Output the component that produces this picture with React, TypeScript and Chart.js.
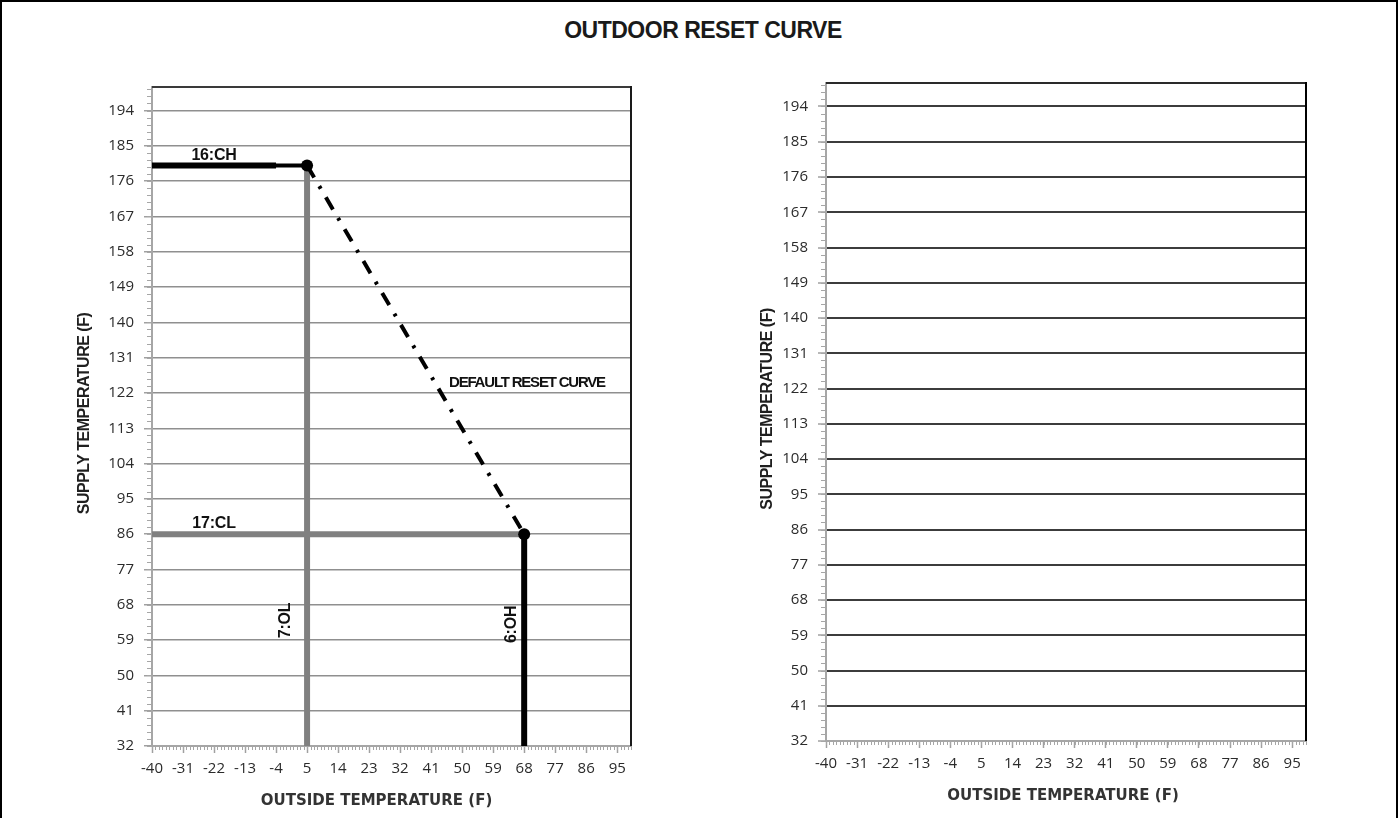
import React, { useEffect, useRef } from "react";
import { Chart, registerables } from "chart.js";

Chart.register(...registerables);

// ---------- data ----------
const xRange = [-40, 99];
const yRange = [32, 200];
const xTickValues = [-40, -31, -22, -13, -4, 5, 14, 23, 32, 41, 50, 59, 68, 77, 86, 95];
const yTickValues = [32, 41, 50, 59, 68, 77, 86, 95, 104, 113, 122, 131, 140, 149, 158, 167, 176, 185, 194];
const xMinorStep = 1;
const yMinorStep = 1.8;

const chPoints = [{ x: -40, y: 180 }, { x: 5, y: 180 }];
const chHeavyPoints = [{ x: -40, y: 180 }, { x: -4, y: 180 }];
const resetPoints = [{ x: 5, y: 180 }, { x: 68, y: 86 }];
const clPoints = [{ x: -40, y: 86 }, { x: 68, y: 86 }];
const olPoints = [{ x: 5, y: 32 }, { x: 5, y: 180 }];
const ohPoints = [{ x: 68, y: 32 }, { x: 68, y: 86 }];

const chartTitle = "OUTDOOR RESET CURVE";
const xAxisTitle = "OUTSIDE TEMPERATURE (F)";
const yAxisTitle = "SUPPLY TEMPERATURE (F)";

// annotation texts anchored in data space (offsets in px)
const leftNotes = [
  { text: "16:CH", x: -22, y: 180, dx: 0, dy: -10, rotate: false, align: "center", size: 16, spacing: -0.2 },
  { text: "17:CL", x: -22, y: 86, dx: 0, dy: -11, rotate: false, align: "center", size: 16, spacing: -0.2 },
  { text: "7:OL", x: 5, y: 64, dx: -21, dy: 0, rotate: true, align: "center", size: 16, spacing: -0.2 },
  { text: "6:OH", x: 68, y: 63, dx: -13, dy: 0, rotate: true, align: "center", size: 16, spacing: -0.2 },
  { text: "DEFAULT RESET CURVE", x: 46.2, y: 124.6, dx: 0, dy: 0, rotate: false, align: "left", size: 15, spacing: -1.2 },
];

// ---------- layout / style ----------
const FONT_ARIAL = "'Liberation Sans', Arial, sans-serif";
const FONT_TICK = "'Open Sans', 'Liberation Sans', sans-serif";
const FONT_XTITLE = "'DejaVu Sans', Verdana, sans-serif";

const leftPanel = {
  top: 87, right: 69, yAxisWidth: 152, xAxisHeight: 72,
  gridColor: "#8f8f8f", gridWidth: 1.5, topBorder: "#3a3a3a", rightBorder: "#1a1a1a",
  yTitleDx: -67, yTitleDy: -3, xTitleDx: -15, xTitleDy: 55.5,
};
const rightPanel = {
  top: 83, right: 94, yAxisWidth: 126, xAxisHeight: 77,
  gridColor: "#3c3c3c", gridWidth: 2, topBorder: "#2a2a2a", rightBorder: "#000000",
  yTitleDx: -58, yTitleDy: -3, xTitleDx: -3, xTitleDy: 55.5,
};

function makeChart(canvas: HTMLCanvasElement, panel: any, datasets: any[], notes: any[]) {
  const decor = {
    id: "decor",
    afterDraw(chart: any) {
      const { ctx, chartArea: a, scales } = chart;
      const xs = scales.x;
      const ys = scales.y;
      ctx.save();
      // minor ticks
      ctx.strokeStyle = "#a6a6a6";
      ctx.lineWidth = 1;
      for (let i = 0; ; i++) {
        const v = xRange[0] + i * xMinorStep;
        if (v > xRange[1] + 1e-9) break;
        const px = Math.round(xs.getPixelForValue(v)) + 0.5;
        ctx.beginPath();
        ctx.moveTo(px, a.bottom);
        ctx.lineTo(px, a.bottom + 4);
        ctx.stroke();
      }
      for (let i = 0; ; i++) {
        const v = yRange[0] + i * yMinorStep;
        if (v > yRange[1] + 1e-9) break;
        const py = Math.round(ys.getPixelForValue(v)) + 0.5;
        ctx.beginPath();
        ctx.moveTo(a.left, py);
        ctx.lineTo(a.left - 5, py);
        ctx.stroke();
      }
      // top and right borders of plot
      ctx.lineWidth = 2;
      ctx.strokeStyle = panel.topBorder;
      ctx.beginPath();
      ctx.moveTo(a.left, a.top);
      ctx.lineTo(a.right, a.top);
      ctx.stroke();
      ctx.strokeStyle = panel.rightBorder;
      ctx.beginPath();
      ctx.moveTo(a.right, a.top - 1);
      ctx.lineTo(a.right, a.bottom);
      ctx.stroke();

      // annotations
      ctx.fillStyle = "#111";
      for (const n of notes) {
        const px = xs.getPixelForValue(n.x) + n.dx;
        const py = ys.getPixelForValue(n.y) + n.dy;
        ctx.save();
        ctx.font = `bold ${n.size}px ${FONT_ARIAL}`;
        (ctx as any).letterSpacing = `${n.spacing}px`;
        ctx.textBaseline = "middle";
        ctx.textAlign = n.align;
        ctx.translate(px, py);
        if (n.rotate) ctx.rotate(-Math.PI / 2);
        ctx.fillText(n.text, 0, 0);
        ctx.restore();
      }

      // axis titles
      ctx.fillStyle = "#1f1f1f";
      ctx.save();
      ctx.font = `bold 16px ${FONT_ARIAL}`;
      (ctx as any).letterSpacing = "-0.5px";
      ctx.textAlign = "center";
      ctx.textBaseline = "middle";
      ctx.translate(a.left + panel.yTitleDx, (a.top + a.bottom) / 2 + panel.yTitleDy);
      ctx.rotate(-Math.PI / 2);
      ctx.fillText(yAxisTitle, 0, 0);
      ctx.restore();

      ctx.save();
      ctx.font = `bold 15px ${FONT_XTITLE}`;
      ctx.textAlign = "center";
      ctx.textBaseline = "middle";
      ctx.fillStyle = "#333";
      ctx.fillText(xAxisTitle, (a.left + a.right) / 2 + panel.xTitleDx, a.bottom + panel.xTitleDy);
      ctx.restore();

      ctx.restore();
    },
  };

  return new Chart(canvas, {
    type: "line",
    data: { datasets },
    options: {
      responsive: false,
      animation: false,
      events: [],
      layout: { padding: { top: panel.top, right: panel.right, left: 0, bottom: 0 } },
      plugins: { legend: { display: false }, tooltip: { enabled: false }, title: { display: false } },
      scales: {
        x: {
          type: "linear",
          min: xRange[0],
          max: xRange[1],
          afterBuildTicks: (s: any) => { s.ticks = xTickValues.map((v) => ({ value: v })); },
          afterFit: (s: any) => { s.height = panel.xAxisHeight; },
          grid: { drawOnChartArea: false, drawTicks: true, tickLength: 7, tickColor: "#a0a0a0", tickWidth: 1.5 },
          border: { display: true, color: "#a6a6a6", width: 2 },
          ticks: {
            autoSkip: false, maxRotation: 0, padding: 7, color: "#2b2b2b",
            font: { family: FONT_TICK, size: 15 },
            callback: (v: any) => String(v),
          },
        },
        y: {
          type: "linear",
          min: yRange[0],
          max: yRange[1],
          afterBuildTicks: (s: any) => { s.ticks = yTickValues.map((v) => ({ value: v })); },
          afterFit: (s: any) => { s.width = panel.yAxisWidth; },
          grid: {
            drawOnChartArea: true, drawTicks: true, tickLength: 8, tickColor: "#a0a0a0", tickWidth: 1.5,
            color: (c: any) => (c.tick && c.tick.value === yRange[0] ? "rgba(0,0,0,0)" : panel.gridColor),
            lineWidth: panel.gridWidth,
          },
          border: { display: true, color: "#a6a6a6", width: 2 },
          ticks: {
            padding: 10, color: "#2b2b2b",
            font: { family: FONT_TICK, size: 15 },
            callback: (v: any) => String(v),
          },
        },
      },
    },
    plugins: [decor],
  } as any);
}

function leftDatasets() {
  const base = { fill: false, pointRadius: 0, clip: 0, tension: 0 };
  return [
    {
      ...base, label: "DEFAULT RESET CURVE", data: resetPoints, borderColor: "#000", borderWidth: 4,
      borderDash: [14, 10, 3, 10], pointRadius: 6, pointBackgroundColor: "#000", pointBorderWidth: 0, order: 0, clip: false,
    },
    { ...base, label: "16:CH heavy", data: chHeavyPoints, borderColor: "#000", borderWidth: 6, order: 1 },
    { ...base, label: "16:CH", data: chPoints, borderColor: "#000", borderWidth: 4, order: 2 },
    { ...base, label: "6:OH", data: ohPoints, borderColor: "#000", borderWidth: 6, order: 3 },
    { ...base, label: "7:OL", data: olPoints, borderColor: "#808080", borderWidth: 6, order: 4 },
    { ...base, label: "17:CL", data: clPoints, borderColor: "#808080", borderWidth: 6, order: 5 },
  ];
}

export default function App() {
  const leftRef = useRef<HTMLCanvasElement>(null);
  const rightRef = useRef<HTMLCanvasElement>(null);

  useEffect(() => {
    document.body.style.margin = "0";
    document.body.style.overflow = "hidden";
    const c1 = makeChart(leftRef.current!, leftPanel, leftDatasets(), leftNotes);
    const c2 = makeChart(rightRef.current!, rightPanel, [], []);
    return () => {
      c1.destroy();
      c2.destroy();
    };
  }, []);

  return (
    <div style={{ position: "relative", width: 1400, height: 818, background: "#fff", overflow: "hidden" }}>
      <div
        style={{
          position: "absolute", left: 0, top: 0, width: 1398, height: 840,
          border: "2px solid #000", boxSizing: "border-box",
        }}
      />
      <div
        style={{
          position: "absolute", left: 0, top: 19, width: 1406, textAlign: "center",
          fontFamily: FONT_ARIAL, fontWeight: "bold", fontSize: 23, lineHeight: "23px",
          letterSpacing: "-0.5px", color: "#1a1a1a",
        }}
      >
        {chartTitle}
      </div>
      <canvas ref={leftRef} width={700} height={818} style={{ position: "absolute", left: 0, top: 0 }} />
      <canvas ref={rightRef} width={700} height={818} style={{ position: "absolute", left: 700, top: 0 }} />
    </div>
  );
}
